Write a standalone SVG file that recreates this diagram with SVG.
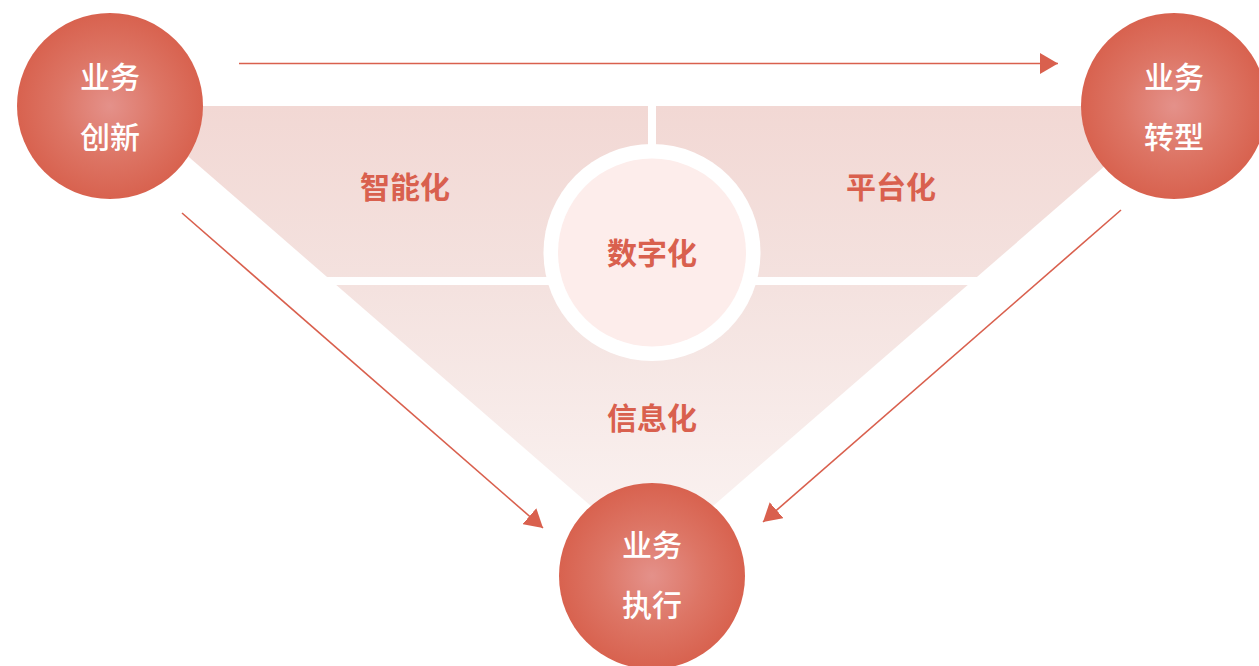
<svg xmlns="http://www.w3.org/2000/svg" width="1259" height="666" viewBox="0 0 1259 666">
  <defs>
    <radialGradient id="ball" cx="0.5" cy="0.5" r="0.5">
      <stop offset="0" stop-color="#E4918A"/>
      <stop offset="0.55" stop-color="#DD7565"/>
      <stop offset="1" stop-color="#D8624F"/>
    </radialGradient>
    <linearGradient id="pink" x1="0" y1="106" x2="0" y2="560" gradientUnits="userSpaceOnUse">
      <stop offset="0" stop-color="#F2D8D4"/>
      <stop offset="0.4" stop-color="#F4E2DF"/>
      <stop offset="1" stop-color="#FBF4F3"/>
    </linearGradient>
    <marker id="arrow" markerUnits="userSpaceOnUse" markerWidth="18" markerHeight="21" refX="18" refY="10.5" orient="auto" viewBox="0 0 18 21">
      <path d="M0,0 L18,10.5 L0,21 z" fill="#D9604E"/>
    </marker>
    <style>
      .ball { fill: url(#ball); }
      .wt { font-family: "Noto Sans CJK SC", "Noto Sans", sans-serif; font-size: 30px; fill: #FFFFFF; font-weight: 500; text-anchor: middle; dominant-baseline: central; }
      .lbl { font-family: "Noto Sans CJK SC", "Noto Sans", sans-serif; font-size: 30px; fill: #D9604E; font-weight: 700; text-anchor: middle; dominant-baseline: central; }
      .conn { stroke: #D9604E; stroke-width: 1.6; fill: none; }
    </style>
  </defs>

  <rect width="1259" height="666" fill="#FFFFFF"/>

  <g id="funnel">
    <polygon points="130,106 1174,106 652,559" fill="url(#pink)"/>
    <rect x="120" y="277" width="1070" height="8" fill="#FFFFFF"/>
    <rect x="648" y="100" width="8" height="60" fill="#FFFFFF"/>
  </g>

  <g id="node-digital">
    <circle cx="652" cy="252.5" r="108.5" fill="#FFFFFF"/>
    <circle cx="652" cy="252.5" r="94" fill="#FDEDEB"/>
    <text class="lbl" x="652" y="251">数字化</text>
  </g>

  <g id="label-intelligent">
    <text class="lbl" x="405" y="185">智能化</text>
  </g>
  <g id="label-platform">
    <text class="lbl" x="891" y="185">平台化</text>
  </g>
  <g id="label-information">
    <text class="lbl" x="652" y="416">信息化</text>
  </g>

  <g id="connectors">
    <line class="conn" x1="239" y1="63.5" x2="1058" y2="63.5" marker-end="url(#arrow)"/>
    <line class="conn" x1="182" y1="213" x2="543" y2="528" marker-end="url(#arrow)"/>
    <line class="conn" x1="1121" y1="210" x2="763" y2="522" marker-end="url(#arrow)"/>
  </g>

  <g id="node-innovation">
    <circle class="ball" cx="110" cy="106" r="93"/>
    <text class="wt" x="110" y="75">业务</text>
    <text class="wt" x="110" y="135">创新</text>
  </g>

  <g id="node-transformation">
    <circle class="ball" cx="1174" cy="106" r="93"/>
    <text class="wt" x="1174" y="75">业务</text>
    <text class="wt" x="1174" y="135">转型</text>
  </g>

  <g id="node-execution">
    <circle class="ball" cx="652" cy="576" r="93"/>
    <text class="wt" x="652" y="543">业务</text>
    <text class="wt" x="652" y="603">执行</text>
  </g>
</svg>
